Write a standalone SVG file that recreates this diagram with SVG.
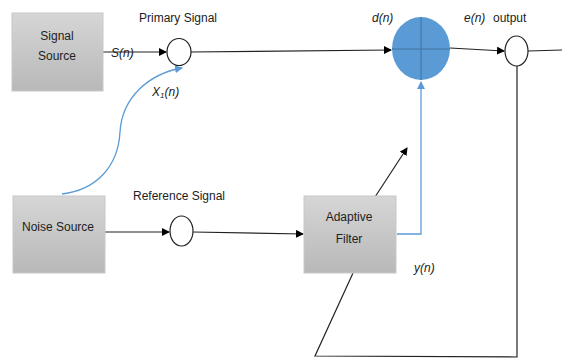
<svg xmlns="http://www.w3.org/2000/svg" width="562" height="360" viewBox="0 0 562 360">
<defs>
<linearGradient id="g" x1="0" y1="0" x2="0" y2="1">
<stop offset="0" stop-color="#d6d6d6"/>
<stop offset="1" stop-color="#b8b8b8"/>
</linearGradient>
<marker id="ab" markerWidth="8" markerHeight="8" refX="7" refY="4" orient="auto" markerUnits="userSpaceOnUse">
<path d="M0,0 L8,4 L0,8 z" fill="#000"/>
</marker>
<marker id="abl" markerWidth="8" markerHeight="8" refX="7" refY="4" orient="auto" markerUnits="userSpaceOnUse">
<path d="M0,0 L8,4 L0,8 z" fill="#5b9bd5"/>
</marker>
</defs>
<style>
text{font-family:"Liberation Sans",Arial,sans-serif;font-size:12px;fill:#222;}
.it{font-style:italic;}
.box{fill:url(#g);stroke:#c8c8c8;stroke-width:1;}
.ring{fill:#fff;stroke:#222;stroke-width:1.2;}
.ln{fill:none;stroke:#222;stroke-width:1.2;}
.bl{fill:none;stroke:#5b9bd5;stroke-width:1.3;}
</style>
<rect width="562" height="360" fill="#fff"/>
<g id="connectors">
<line class="ln" x1="103" y1="52" x2="166" y2="52" marker-end="url(#ab)"/>
<path class="bl" d="M62 194 C95 190 118 168 120 132 C122 98 148 74 182 68" marker-end="url(#abl)"/>
<line class="ln" x1="190" y1="52" x2="391" y2="50" marker-end="url(#ab)"/>
<line class="ln" x1="450" y1="48" x2="504" y2="51" marker-end="url(#ab)"/>
<line class="ln" x1="528" y1="51" x2="562" y2="50"/>
<line class="ln" x1="105" y1="232" x2="169" y2="232" marker-end="url(#ab)"/>
<line class="ln" x1="193" y1="232" x2="303" y2="234" marker-end="url(#ab)"/>
<polyline class="bl" points="397,234 421,234 421,82" marker-end="url(#abl)"/>
<line class="ln" x1="375" y1="197" x2="407" y2="148" marker-end="url(#ab)"/>
<polyline class="ln" points="517,66 517,357 315,356 353,273"/>
</g>
<g id="signal-source">
<rect class="box" x="12" y="13" width="91" height="78"/>
<text x="57" y="40" text-anchor="middle">Signal</text>
<text x="57" y="60" text-anchor="middle">Source</text>
</g>
<g id="noise-source">
<rect class="box" x="13" y="196" width="92" height="77"/>
<text x="58" y="231" text-anchor="middle">Noise Source</text>
</g>
<g id="adaptive-filter">
<rect class="box" x="304" y="196" width="92" height="77"/>
<text x="349" y="221" text-anchor="middle">Adaptive</text>
<text x="349" y="243" text-anchor="middle">Filter</text>
</g>
<g id="primary-sum">
<ellipse class="ring" cx="179" cy="52" rx="12" ry="13.5"/>
</g>
<g id="reference-sum">
<ellipse class="ring" cx="181.5" cy="231" rx="11.5" ry="15"/>
</g>
<g id="summing-junction">
<ellipse cx="421" cy="48.5" rx="29" ry="31.5" fill="#5b9bd5"/>
<line x1="421" y1="17" x2="421" y2="80" stroke="#41719c" stroke-width="1"/>
<line x1="392" y1="49" x2="450" y2="49" stroke="#41719c" stroke-width="1"/>
</g>
<g id="output-sum">
<ellipse class="ring" cx="516.5" cy="51" rx="11.5" ry="15"/>
</g>
<g id="labels">
<text x="178" y="22" text-anchor="middle">Primary Signal</text>
<text x="111" y="57" class="it">S(n)</text>
<text x="152" y="96" class="it">X<tspan font-size="8" dy="2">1</tspan><tspan dy="-2">(n)</tspan></text>
<text x="372" y="22" class="it">d(n)</text>
<text x="464" y="22" class="it">e(n)</text>
<text x="493" y="22">output</text>
<text x="179" y="200" text-anchor="middle">Reference Signal</text>
<text x="414" y="272" class="it">y(n)</text>
</g>
</svg>
